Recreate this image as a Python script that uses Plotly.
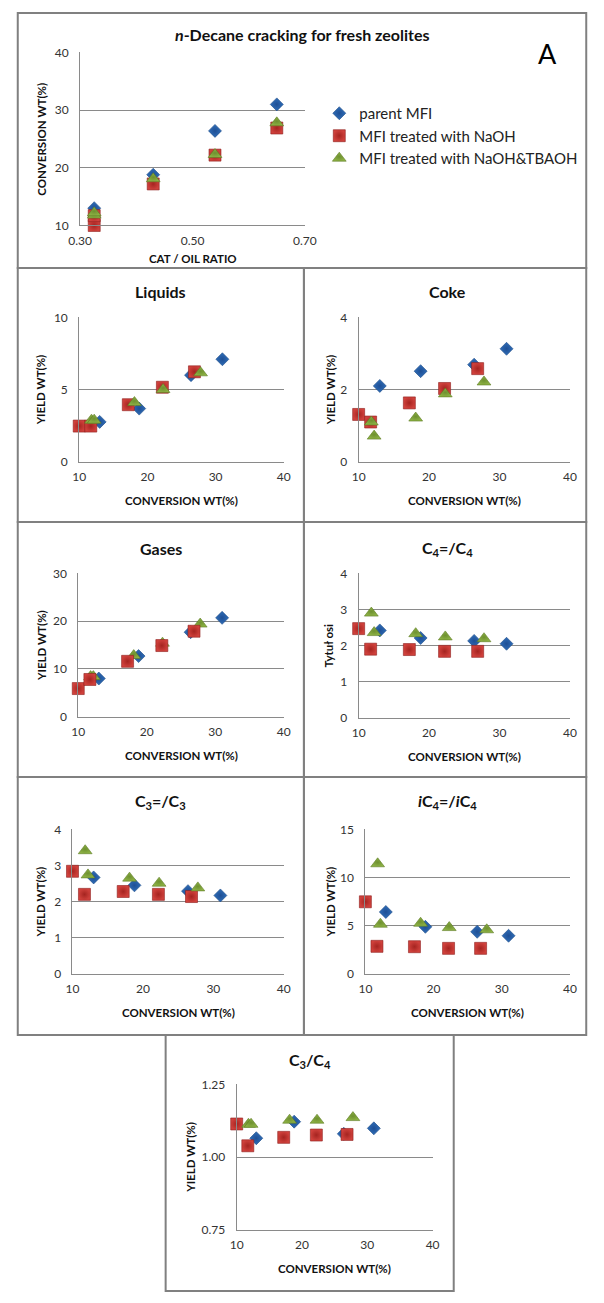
import plotly.graph_objects as go

W, H = 604, 1303

# ---- data -------------------------------------------------------------
series_names = ["parent MFI", "MFI treated with NaOH", "MFI treated with NaOH&TBAOH"]

ratio_parent = [0.325, 0.43, 0.54, 0.65]
ratio_naoh = [0.325, 0.325, 0.43, 0.54, 0.65]
ratio_tbaoh = [0.325, 0.325, 0.43, 0.54, 0.65]

conv_parent = [13.0, 18.8, 26.4, 31.0]
conv_naoh = [10.0, 11.7, 17.2, 22.2, 26.9]
conv_tbaoh = [11.8, 12.2, 18.1, 22.3, 27.8]

liquids_parent = [2.76, 3.68, 6.0, 7.1]
liquids_naoh = [2.47, 2.47, 3.95, 5.16, 6.23]
liquids_tbaoh = [2.88, 2.88, 4.1, 5.0, 6.16]

coke_parent = [2.10, 2.51, 2.69, 3.13]
coke_naoh = [1.31, 1.10, 1.63, 2.03, 2.58]
coke_tbaoh = [1.10, 0.71, 1.21, 1.88, 2.21]

gases_parent = [8.0, 12.7, 17.7, 20.7]
gases_naoh = [5.9, 7.8, 11.6, 14.9, 17.9]
gases_tbaoh = [8.4, 8.4, 12.8, 15.4, 19.4]

c4_parent = [2.42, 2.21, 2.13, 2.05]
c4_naoh = [2.47, 1.90, 1.89, 1.84, 1.84]
c4_tbaoh = [2.90, 2.36, 2.33, 2.24, 2.19]

c3_parent = [2.67, 2.45, 2.29, 2.17]
c3_naoh = [2.84, 2.20, 2.28, 2.20, 2.14]
c3_tbaoh = [3.41, 2.74, 2.65, 2.51, 2.38]

ic4_parent = [6.42, 4.88, 4.36, 3.95]
ic4_naoh = [7.48, 2.85, 2.81, 2.64, 2.64]
ic4_tbaoh = [11.43, 5.15, 5.25, 4.80, 4.57]

c3c4_parent = [1.065, 1.122, 1.080, 1.099]
c3c4_naoh = [1.114, 1.039, 1.068, 1.076, 1.078]
c3c4_tbaoh = [1.113, 1.113, 1.127, 1.127, 1.136]

# ---- styling ----------------------------------------------------------
FONT = "Lato"
GRID = "#8a8a8a"
BORDER = "#808080"
TICK_COLOR = "#333333"

MARKERS = [
    dict(symbol="diamond", size=10, color="#2E6DB8",
         line=dict(color="#1D4A85", width=0.6),
         gradient=dict(type="radial", color="#1F4F94")),
    dict(symbol="square", size=12, color="#D0413C",
         line=dict(color="#8E1F1C", width=0.6),
         gradient=dict(type="radial", color="#A52420")),
    dict(symbol="triangle-up", size=12, color="#8DB244",
         line=dict(color="#5C7A22", width=0.6),
         gradient=dict(type="radial", color="#6E9030")),
]


def px_x(p):
    return p / W


def px_y(p):
    return 1 - p / H


fig = go.Figure()

panels = [
    dict(x=[ratio_parent, ratio_naoh, ratio_tbaoh], y=[conv_parent, conv_naoh, conv_tbaoh],
         box=(71, 305, 45, 220), yr=[10, 40], ydt=10, xr=[0.3, 0.7], xdt=0.2, xfmt=".2f", yfmt="",
         title="<i>n</i>-Decane cracking for fresh zeolites", tpos=(302, 27),
         ytitle="CONVERSION WT(%)", xtitle="CAT / OIL RATIO", ytx=31, order=[0, 1, 2]),
    dict(x=None, y=[liquids_parent, liquids_naoh, liquids_tbaoh],
         box=(70, 283, 313, 459), yr=[0, 10], ydt=5, title="Liquids", tpos=(155, 287),
         ytitle="YIELD WT(%)", ytx=30, order=[0, 1, 2]),
    dict(x=None, y=[coke_parent, coke_naoh, coke_tbaoh],
         box=(361, 581, 313, 459), yr=[0, 4], ydt=2, title="Coke", tpos=(453, 287),
         ytitle="YIELD WT(%)", ytx=332, order=[0, 1, 2]),
    dict(x=None, y=[gases_parent, gases_naoh, gases_tbaoh],
         box=(69, 283, 572, 717), yr=[0, 30], ydt=10, title="Gases", tpos=(155, 547),
         ytitle="YIELD WT(%)", ytx=30, order=[0, 2, 1]),
    dict(x=None, y=[c4_parent, c4_naoh, c4_tbaoh],
         box=(361, 581, 572, 718), yr=[0, 4], ydt=1, title="C<sub>4</sub>=/C<sub>4</sub>",
         tpos=(454, 547), ytitle="Tytuł osi", ytx=330, order=[0, 1, 2]),
    dict(x=None, y=[c3_parent, c3_naoh, c3_tbaoh],
         box=(63, 283, 831, 977), yr=[0, 4], ydt=1, title="C<sub>3</sub>=/C<sub>3</sub>",
         tpos=(155, 803), ytitle="YIELD WT(%)", ytx=30, order=[0, 1, 2]),
    dict(x=None, y=[ic4_parent, ic4_naoh, ic4_tbaoh],
         box=(368, 581, 831, 977), yr=[0, 15], ydt=5,
         title="<i>i</i>C<sub>4</sub>=/<i>i</i>C<sub>4</sub>", tpos=(454, 803),
         ytitle="YIELD WT(%)", ytx=332, order=[0, 1, 2]),
    dict(x=None, y=[c3c4_parent, c3c4_naoh, c3c4_tbaoh],
         box=(234, 438, 1089, 1236), yr=[0.75, 1.25], ydt=0.25, yfmt=".2f",
         title="C<sub>3</sub>/C<sub>4</sub>", tpos=(310, 1065),
         ytitle="YIELD WT(%)", ytx=185, order=[0, 1, 2]),
]

conv_sets = [conv_parent, conv_naoh, conv_tbaoh]
annotations = []

for i, p in enumerate(panels):
    k = "" if i == 0 else str(i + 1)
    xa, ya = "x" + k, "y" + k
    xs = p["x"] if p["x"] is not None else conv_sets
    for s in p["order"]:
        fig.add_trace(go.Scatter(
            x=xs[s], y=p["y"][s], mode="markers", name=series_names[s],
            marker=MARKERS[s], xaxis=xa, yaxis=ya, cliponaxis=False,
            showlegend=(i == 0), legendrank=s + 1,
        ))
    x0, x1, y0, y1 = p["box"]
    axis_common = dict(showline=True, linecolor=GRID, linewidth=1, zeroline=False,
                       tickfont=dict(family=FONT, size=12, color=TICK_COLOR),
                       ticks="outside", tickcolor="rgba(0,0,0,0)")
    fig.layout["xaxis" + k] = dict(
        domain=[px_x(x0), px_x(x1)], anchor=ya, range=p.get("xr", [10, 40]),
        dtick=p.get("xdt", 10), tick0=p.get("xr", [10, 40])[0], tickformat=p.get("xfmt", ""),
        showgrid=False, ticklen=4, **axis_common)
    fig.layout["yaxis" + k] = dict(
        domain=[px_y(y1), px_y(y0)], anchor=xa, range=p["yr"], dtick=p["ydt"],
        tick0=p["yr"][0], tickformat=p.get("yfmt", ""), showgrid=True,
        gridcolor=GRID, gridwidth=1, ticklen=8, **axis_common)

    annotations.append(dict(text="<b>" + p["title"] + "</b>", x=px_x(p["tpos"][0]),
                            y=px_y(p["tpos"][1]), xref="paper", yref="paper",
                            showarrow=False, xanchor="center", yanchor="middle",
                            font=dict(family=FONT, size=16, color="#111111")))
    annotations.append(dict(text="<b>" + p["ytitle"] + "</b>", x=px_x(p["ytx"]),
                            y=px_y((y0 + y1) / 2), xref="paper", yref="paper",
                            showarrow=False, textangle=-90, xanchor="center",
                            yanchor="middle", font=dict(family=FONT, size=11.5, color="#111111")))
    annotations.append(dict(text="<b>" + p.get("xtitle", "CONVERSION WT(%)") + "</b>",
                            x=px_x((x0 + x1) / 2), y=px_y(y1 + (33 if i == 0 else 39)),
                            xref="paper", yref="paper", showarrow=False,
                            xanchor="center", yanchor="middle",
                            font=dict(family=FONT, size=11.5, color="#111111")))

annotations.append(dict(text="A", x=px_x(558), y=px_y(46), xref="paper", yref="paper",
                        showarrow=False, xanchor="center", yanchor="middle",
                        font=dict(family=FONT, size=27, color="#000000")))

# panel frames
frames = [
    (6, 598, 5, 263),
    (6, 304, 263, 520), (304, 598, 263, 520),
    (6, 304, 520, 778), (304, 598, 520, 778),
    (6, 304, 778, 1039), (304, 598, 778, 1039),
    (160, 460, 1039, 1298),
]
shapes = [dict(type="rect", xref="paper", yref="paper",
               x0=px_x(a), x1=px_x(b), y0=px_y(d), y1=px_y(c),
               line=dict(color=BORDER, width=2), fillcolor="rgba(0,0,0,0)", layer="below")
          for a, b, c, d in frames]

fig.update_layout(
    width=W, height=H, margin=dict(l=0, r=0, t=0, b=0),
    paper_bgcolor="white", plot_bgcolor="white",
    annotations=annotations, shapes=shapes,
    showlegend=True,
    legend=dict(x=px_x(320), y=px_y(90), xanchor="left", yanchor="top",
                font=dict(family=FONT, size=15, color="#222222"),
                bgcolor="rgba(0,0,0,0)", itemwidth=30, tracegroupgap=0),
)

fig.write_html("out.html")
